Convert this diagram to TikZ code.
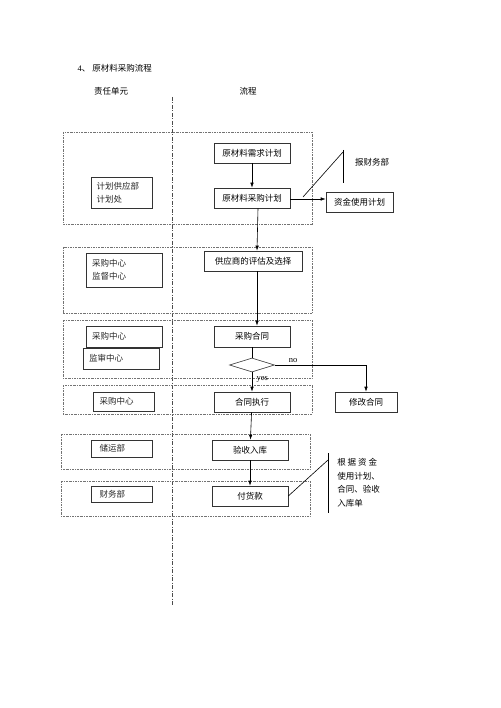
\documentclass[tikz,border=0pt]{standalone}
\usepackage{fontspec}
\setmainfont{Noto Sans CJK SC}
\newfontfamily\latinfont{Liberation Serif}
\usepackage{tikz}
\usetikzlibrary{shapes.geometric,arrows.meta}

\begin{document}
\begin{tikzpicture}[x=1pt,y=-1pt,font=\fontsize{8.5}{13.5}\selectfont,line width=0.6pt]
		\tikzstyle{proc}=[rectangle,draw=black!80,minimum width=76pt,minimum height=20pt,inner sep=0]
		\tikzstyle{unit}=[rectangle,draw=black!80,inner sep=0,align=left,text=black!85]
		\tikzstyle{lane}=[draw=black!55,line width=0.5pt,dash pattern=on 2pt off 1pt on 0.6pt off 1pt]
		\tikzstyle{flow}=[-{Latex[length=5pt,width=3.5pt]}]
		\useasboundingbox (0,0) rectangle (500,708);

		% headings
		\node[anchor=west] (title) at (74,68) {{\latinfont 4}、 原材料采购流程};
		\node (unithead) at (111,91) {责任单元};
		\node (flowhead) at (248,91) {流程};
		\draw[black!70,line width=0.5pt,dash pattern=on 4pt off 1.5pt on 1pt off 1.5pt] (172,97) -- (172,606);

		% lanes
		\draw[lane] (63,132) rectangle (312,224);
		\draw[lane] (63,247) rectangle (312,313);
		\draw[lane] (63,320) rectangle (312,378);
		\draw[lane] (63,385) rectangle (312,414);
		\draw[lane] (61,434) rectangle (310,469);
		\draw[lane] (61,481) rectangle (310,516);

		% units
		\node[unit,minimum width=61pt,minimum height=31pt,text width=50pt] (planunit) at (121.5,192.5) {计划供应部\\计划处};
		\node[unit,minimum width=76pt,minimum height=34pt,text width=64pt] (buyunit) at (124,270) {采购中心\\监督中心};
		\node[unit,minimum width=76pt,minimum height=21pt,text width=64pt] (buyunitb) at (124,336.5) {采购中心};
		\node[unit,minimum width=76pt,minimum height=21pt,text width=64pt] (auditunit) at (121,358.5) {监审中心};
		\node[unit,minimum width=61pt,minimum height=19pt,text width=48pt] (buyunitc) at (123.5,401.5) {采购中心};
		\node[unit,minimum width=61pt,minimum height=17pt,text width=44pt] (storeunit) at (121.5,448.5) {储运部};
		\node[unit,minimum width=61pt,minimum height=16pt,text width=44pt] (finunit) at (121.5,494) {财务部};

		% process
		\node[proc] (need) at (252,153) {原材料需求计划};
		\node[proc] (plan) at (252,198) {原材料采购计划};
		\node[proc,minimum width=67pt] (fund) at (359.5,202) {资金使用计划};
		\node[proc,minimum width=98pt] (select) at (253,261) {供应商的评估及选择};
		\node[proc,minimum height=21pt] (contract) at (252,336.5) {采购合同};
		\node[diamond,draw=black!80,minimum width=45pt,minimum height=14pt,inner sep=0] (check) at (252,365) {};
		\node[proc] (exec) at (252,402) {合同执行};
		\node[proc,minimum width=62pt] (revise) at (366,402) {修改合同};
		\node[proc] (accept) at (250,450) {验收入库};
		\node[proc] (pay) at (250,496) {付货款};

		\draw[flow] (need) -- (plan);
		\draw[flow] ([xshift=6pt]plan.south) -- ([xshift=4pt]select.north);
		\draw[flow] ([xshift=4pt]select.south) -- ([xshift=5pt]contract.north);
		\draw (contract) -- (check);
		\draw[flow] (check) -- (exec) node[pos=0.35,right=1pt] {\latinfont yes};
		\draw[flow] (check.east) -| (revise.north) node[pos=0.1,above=-1pt] {\latinfont no};
		\draw[flow] (exec) -- (accept);
		\draw[flow] (accept) -- (pay);
		\draw[flow] ([yshift=-1pt]plan.east) -- ([yshift=-1pt]plan.east -| fund.west);

		% notes
		\coordinate (fundfork) at (303,197);
		\coordinate (fundbar) at (343,152);
		\draw (fundfork) -- (fundbar);
		\draw (343,150) -- (343,183);
		\node (fundnote) at (372,162) {报财务部};
		\coordinate (paybar) at (328,460);
		\draw (pay.east) -- (paybar);
		\draw (328,453) -- (328,513);
		\node[anchor=north west,align=left,inner sep=0] (paynote) at (337,458) {根\ 据\ 资\ 金\\使用计划、\\合同、验收\\入库单};
	\end{tikzpicture}
\end{document}
